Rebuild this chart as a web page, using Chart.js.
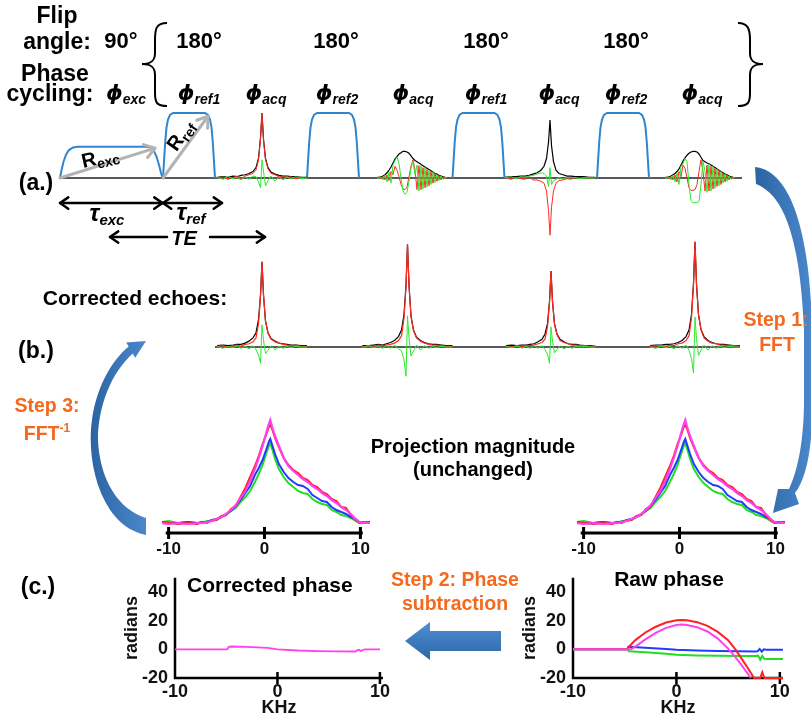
<!DOCTYPE html>
<html>
<head>
<meta charset="utf-8">
<script src="https://cdn.jsdelivr.net/npm/chart.js"></script>
<style>
body { margin: 0; background: #fff; }
#fig { position: relative; width: 811px; height: 721px; overflow: hidden; font-family: 'Liberation Sans', Arial, sans-serif; font-weight: bold; color: #000; }
.box { position: absolute; }
.box canvas { display: block; }
.t { position: absolute; transform: translate(-50%, -50%); line-height: 1; white-space: nowrap; }
.l { position: absolute; transform: translateY(-50%); line-height: 1; white-space: nowrap; }
.o { color: #f5691e; font-size: 19.5px; }
.it { font-style: italic; }
.t sub { position: relative; top: 4px; vertical-align: baseline; line-height: 0; }
.t sup { position: relative; top: -8px; vertical-align: baseline; line-height: 0; font-size: 12px; }
.ph { font-style: italic; font-size: 22px; }
.ph b { font-family: 'DejaVu Sans', sans-serif; font-size: 21px; }
.ph sub { font-size: 14px; }
</style>
</head>
<body>
<div id="fig">
  <div class="box" style="left:0;top:100px"><canvas id="cA" width="811" height="150"></canvas></div>
  <div class="box" style="left:0;top:230px"><canvas id="cB" width="811" height="160"></canvas></div>
  <div class="box" style="left:150px;top:400px"><canvas id="cC1" width="230" height="165"></canvas></div>
  <div class="box" style="left:565px;top:400px"><canvas id="cC2" width="230" height="165"></canvas></div>
  <div class="box" style="left:110px;top:560px"><canvas id="cD1" width="285" height="160"></canvas></div>
  <div class="box" style="left:508px;top:560px"><canvas id="cD2" width="285" height="160"></canvas></div>

  <svg width="811" height="721" style="position:absolute;left:0;top:0;pointer-events:none">
    <defs>
      <linearGradient id="bl" x1="0" y1="0" x2="1" y2="0">
        <stop offset="0" stop-color="#2c64a2"/><stop offset="1" stop-color="#4a88cc"/>
      </linearGradient>
      <linearGradient id="bl2" x1="0" y1="0" x2="0" y2="1">
        <stop offset="0" stop-color="#4f8fd4"/><stop offset="1" stop-color="#2d66a6"/>
      </linearGradient>
    </defs>
    <path d="M167,23 C156,23 155,29 155,40 L155,53 C155,61 151,64 142,64 C151,64 155,67 155,75 L155,93 C155,103 157,106 167,106" fill="none" stroke="#000" stroke-width="2"/>
    <path d="M738,23 C748,23 750,29 750,40 L750,53 C750,61 754,64 763,64 C754,64 750,67 750,75 L750,93 C750,103 748,106 738,106" fill="none" stroke="#000" stroke-width="2"/>
    <path d="M755,167 C790,170 810,230 812,330 L812,420 C811,455 805,480 795,493 L799,504 L773,513 L778,489 L789,489 C798,470 804,440 804,400 L804,330 C800,240 785,195 756,184 Z" fill="url(#bl)"/>
    <path d="M146,518 L146,535 C100,526 86,460 92,420 C96,390 110,362 128.7,346.6 L126.2,342.4 L146,341 L135.2,357.7 L132.7,353.4 C112,372 98,405 98,440 C100,482 120,510 146,518 Z" fill="url(#bl)"/>
    <path d="M405,641 L430,622 L430,631 L501,631 L501,651 L430,651 L430,660 Z" fill="url(#bl2)"/>
  </svg>

  <div class="t" style="left:57px;top:15px;font-size:23px">Flip</div>
  <div class="t" style="left:57px;top:41px;font-size:23px">angle:</div>
  <div class="t" style="left:121px;top:41px;font-size:22px">90°</div>
  <div class="t" style="left:55px;top:73px;font-size:23px">Phase</div>
  <div class="t" style="left:50px;top:93px;font-size:23px">cycling:</div>
  <div class="t" style="left:199px;top:41px;font-size:22px">180°</div>
  <div class="t" style="left:336px;top:41px;font-size:22px">180°</div>
  <div class="t" style="left:486px;top:41px;font-size:22px">180°</div>
  <div class="t" style="left:626px;top:41px;font-size:22px">180°</div>

  <div class="t ph" style="left:126px;top:93px"><b>ϕ</b><sub>exc</sub></div>
  <div class="t ph" style="left:199px;top:93px"><b>ϕ</b><sub>ref1</sub></div>
  <div class="t ph" style="left:266px;top:93px"><b>ϕ</b><sub>acq</sub></div>
  <div class="t ph" style="left:337px;top:93px"><b>ϕ</b><sub>ref2</sub></div>
  <div class="t ph" style="left:413px;top:93px"><b>ϕ</b><sub>acq</sub></div>
  <div class="t ph" style="left:486px;top:93px"><b>ϕ</b><sub>ref1</sub></div>
  <div class="t ph" style="left:559px;top:93px"><b>ϕ</b><sub>acq</sub></div>
  <div class="t ph" style="left:626px;top:93px"><b>ϕ</b><sub>ref2</sub></div>
  <div class="t ph" style="left:702px;top:93px"><b>ϕ</b><sub>acq</sub></div>

  <div class="t" style="left:100px;top:157px;font-size:20px;transform:translate(-50%,-50%) rotate(-13deg)">R<sub style="font-size:14px">exc</sub></div>
  <div class="t" style="left:180px;top:135px;font-size:20px;transform:translate(-50%,-50%) rotate(-55deg)">R<sub style="font-size:14px">ref</sub></div>

  <div class="t" style="left:36px;top:182px;font-size:23px">(a.)</div>
  <div class="t it" style="left:107px;top:213px;font-size:24px">τ<sub style="font-size:15px">exc</sub></div>
  <div class="t it" style="left:191px;top:212px;font-size:24px">τ<sub style="font-size:15px">ref</sub></div>
  <div class="t it" style="left:184px;top:238px;font-size:20px">TE</div>

  <div class="t" style="left:135px;top:297px;font-size:21px">Corrected echoes:</div>
  <div class="t" style="left:36px;top:350px;font-size:23px">(b.)</div>

  <div class="t o" style="left:776px;top:320px">Step 1:</div>
  <div class="t o" style="left:777px;top:345px">FFT</div>
  <div class="t o" style="left:47px;top:406px">Step 3:</div>
  <div class="t o" style="left:47px;top:434px">FFT<sup>-1</sup></div>

  <div class="t" style="left:473px;top:446px;font-size:20px">Projection magnitude</div>
  <div class="t" style="left:473px;top:469px;font-size:20px">(unchanged)</div>

  <div class="t" style="left:38px;top:586px;font-size:23px">(c.)</div>
  <div class="t o" style="left:455px;top:580px">Step 2: Phase</div>
  <div class="t o" style="left:455px;top:604px">subtraction</div>
  <div class="l" style="left:187px;top:584px;font-size:21px">Corrected phase</div>
  <div class="t" style="left:669px;top:578px;font-size:21px">Raw phase</div>
</div>

<script>
'use strict';

// ---- (a.) pulse sequence, time in arbitrary units ----
const excTime = [0, 0.15, 0.35, 0.6, 0.9, 1.3, 1.8, 8.6, 9.0, 9.35, 9.65, 9.9, 10.1, 10.25];
const excAmp = [0, 0.12, 0.25, 0.36, 0.43, 0.47, 0.48, 0.48, 0.47, 0.43, 0.33, 0.2, 0.08, 0];
const refStart = [10.3, 24.7, 39.25, 53.7];
const refShape = [0, 0.1, 0.22, 0.35, 0.5, 0.7, 1.0, 4.2, 4.5, 4.7, 4.85, 4.98, 5.1, 5.2];
const refAmp = [0, 0.25, 0.55, 0.78, 0.9, 0.97, 1.0, 1.0, 0.97, 0.9, 0.78, 0.55, 0.25, 0];
const seqBase = [0, 68.2];
const echoCenterA = [20.2, 34.7, 49.0, 63.5];

// timing arrows
const tauExc = [0, 10.25];
const tauRef = [10.3, 16.2];
const teLeft = [5.0, 10.7];
const teRight = [15.0, 20.5];
const rExc = [0, 0, 9.5, 0.46];
const rRef = [10.3, 0, 14.8, 0.95];

// sharp echo sampling (offset from echo centre)
const sharpOff = [-4.5, -3.9, -3.4, -2.9, -2.5, -2.1, -1.7, -1.3, -0.9, -0.6, -0.35, -0.15, 0, 0.15, 0.35, 0.6, 0.9, 1.3, 1.7, 2.1, 2.5, 2.9, 3.4, 3.9, 4.5];
const echoA1Black = [0.01, 0.02, 0.01, 0.03, 0.02, 0.04, 0.05, 0.07, 0.1, 0.16, 0.3, 0.62, 1.0, 0.6, 0.3, 0.16, 0.09, 0.06, 0.04, 0.03, 0.03, 0.02, 0.02, 0.01, 0.01];
const echoA1Red = [-0.01, 0.02, -0.02, 0.01, 0.03, -0.01, 0.03, 0.05, 0.07, 0.12, 0.28, 0.6, 1.0, 0.58, 0.28, 0.14, 0.07, 0.05, 0.02, 0.03, 0.01, 0.02, -0.01, 0.01, 0];
const echoA1Green = [0.01, -0.02, 0.02, -0.01, 0.01, -0.03, 0.02, -0.02, 0.03, 0.02, -0.06, -0.15, 0.28, 0.1, -0.12, -0.04, 0.03, -0.05, 0.02, -0.03, 0.02, -0.01, 0.02, -0.01, 0];
const echoA3Black = [0.01, 0.02, 0.02, 0.03, 0.03, 0.04, 0.06, 0.08, 0.12, 0.18, 0.3, 0.55, 0.89, 0.5, 0.25, 0.12, 0.07, 0.05, 0.03, 0.03, 0.02, 0.02, 0.02, 0.01, 0.01];
const echoA3Red = [0.01, -0.02, 0.01, -0.01, -0.02, 0.02, -0.03, -0.03, -0.05, -0.08, -0.2, -0.5, -0.88, -0.45, -0.2, -0.08, -0.04, -0.03, -0.01, -0.02, 0.01, -0.01, 0.01, 0, 0];
const echoA3Green = [0, 0.02, -0.01, 0.02, 0.01, 0.03, 0.04, 0.06, 0.08, 0.07, 0.03, -0.13, 0.16, -0.1, -0.04, -0.02, 0.01, -0.02, 0.01, 0, 0.01, -0.01, 0, 0, 0];

// broad echoes (offset from echo centre)
const broadOff = [-3.0, -2.8, -2.6, -2.4, -2.2, -2.0, -1.8, -1.6, -1.4, -1.2, -1.0, -0.8, -0.6, -0.4, -0.2, 0, 0.2, 0.4, 0.6, 0.8, 1.0, 1.2, 1.4, 1.6, 1.8, 2.0, 2.2, 2.4, 2.6, 2.8, 3.0, 3.2, 3.4, 3.6, 3.8, 4.0];
const echoA2Black = [0.01, 0.01, 0.02, 0.03, 0.05, 0.08, 0.12, 0.17, 0.23, 0.29, 0.33, 0.37, 0.39, 0.41, 0.41, 0.40, 0.38, 0.34, 0.3, 0.27, 0.25, 0.23, 0.21, 0.19, 0.17, 0.15, 0.13, 0.11, 0.09, 0.07, 0.06, 0.04, 0.03, 0.02, 0.01, 0];
const echoA2Red = [0, 0.01, -0.01, 0.02, -0.03, 0.05, -0.04, 0.1, 0.05, 0.18, 0.12, 0.02, -0.1, -0.17, -0.18, -0.14, 0.02, 0.18, 0.28, 0.12, -0.18, 0.19, -0.18, 0.16, -0.15, 0.13, -0.12, 0.1, -0.08, 0.07, -0.05, 0.04, -0.03, 0.02, -0.01, 0];
const echoA2Green = [0.01, -0.01, 0.02, -0.03, 0.04, -0.06, 0.09, -0.08, 0.2, 0.27, 0.32, 0.22, 0.0, -0.2, -0.25, -0.22, -0.05, 0.15, 0.26, 0.05, 0.2, -0.2, 0.19, -0.17, 0.16, -0.14, 0.12, -0.1, 0.09, -0.07, 0.05, -0.04, 0.03, -0.02, 0.01, 0];
const echoA4Black = [0.01, 0.01, 0.02, 0.03, 0.05, 0.07, 0.1, 0.14, 0.2, 0.26, 0.31, 0.35, 0.38, 0.4, 0.41, 0.41, 0.4, 0.37, 0.32, 0.27, 0.25, 0.23, 0.22, 0.2, 0.18, 0.16, 0.14, 0.12, 0.1, 0.08, 0.06, 0.05, 0.03, 0.02, 0.01, 0];
const echoA4Red = [0, 0.01, -0.01, 0.02, -0.03, 0.05, -0.06, 0.1, 0.02, 0.2, 0.15, 0.0, -0.15, -0.19, -0.19, -0.18, -0.1, 0.1, 0.28, 0.1, -0.2, 0.2, -0.2, 0.18, -0.17, 0.15, -0.13, 0.12, -0.1, 0.08, -0.06, 0.05, -0.03, 0.02, -0.01, 0];
const echoA4Green = [0.01, -0.01, 0.02, -0.03, 0.04, -0.06, 0.08, -0.1, 0.18, 0.22, 0.3, 0.25, -0.1, -0.35, -0.38, -0.38, -0.38, -0.36, -0.1, 0.26, 0.1, -0.22, 0.22, -0.2, 0.18, -0.16, 0.14, -0.12, 0.1, -0.08, 0.06, -0.05, 0.03, -0.02, 0.01, 0];

// ---- (b.) corrected echoes ----
const corrBase = [15.5, 68.0];
const echoCenterB = [20.2, 34.75, 49.1, 63.5];
const corrBlack1 = [0.02, 0.03, 0.02, 0.03, 0.04, 0.04, 0.06, 0.09, 0.14, 0.22, 0.42, 0.8, 1.31, 0.8, 0.4, 0.22, 0.13, 0.09, 0.06, 0.05, 0.04, 0.03, 0.03, 0.02, 0.02];
const corrRed1 = [0.01, 0.02, 0.0, 0.02, 0.03, 0.01, 0.04, 0.05, 0.08, 0.14, 0.36, 0.78, 1.31, 0.8, 0.4, 0.21, 0.12, 0.08, 0.06, 0.04, 0.03, 0.02, 0.03, 0.01, 0.01];
const corrGreen1 = [0.01, -0.02, 0.01, -0.01, 0.02, -0.02, 0.01, -0.03, 0.02, -0.04, -0.12, -0.25, 0.34, 0.1, -0.1, -0.05, 0.02, -0.04, 0.01, -0.02, 0.01, -0.01, 0.01, 0, 0];
const corrBlack2 = [0.02, 0.02, 0.03, 0.04, 0.03, 0.05, 0.07, 0.1, 0.16, 0.26, 0.5, 0.95, 1.58, 0.95, 0.48, 0.26, 0.15, 0.1, 0.07, 0.05, 0.04, 0.04, 0.03, 0.02, 0.02];
const corrRed2 = [0.0, 0.02, 0.01, 0.03, 0.02, 0.03, 0.04, 0.06, 0.1, 0.17, 0.44, 0.93, 1.58, 0.95, 0.47, 0.25, 0.14, 0.09, 0.06, 0.04, 0.03, 0.03, 0.02, 0.01, 0.01];
const corrGreen2 = [-0.01, 0.02, -0.01, 0.01, -0.02, 0.02, -0.02, 0.03, -0.03, -0.06, -0.2, -0.45, 0.48, 0.14, -0.14, -0.06, 0.03, -0.05, 0.02, -0.02, 0.01, -0.01, 0.01, 0, 0];
const corrBlack3 = [0.02, 0.03, 0.02, 0.03, 0.03, 0.04, 0.05, 0.08, 0.12, 0.2, 0.36, 0.7, 1.17, 0.7, 0.36, 0.2, 0.12, 0.08, 0.05, 0.04, 0.04, 0.03, 0.02, 0.02, 0.01];
const corrRed3 = [0.01, 0.0, 0.02, 0.01, 0.03, 0.02, 0.03, 0.05, 0.07, 0.12, 0.31, 0.68, 1.17, 0.7, 0.35, 0.19, 0.1, 0.07, 0.05, 0.03, 0.03, 0.02, 0.02, 0.01, 0];
const corrGreen3 = [0.01, -0.01, 0.02, -0.02, 0.01, -0.02, 0.02, -0.02, 0.02, -0.04, -0.11, -0.25, 0.31, 0.09, -0.09, -0.04, 0.02, -0.03, 0.01, -0.02, 0.01, 0, 0.01, 0, 0];
const corrBlack4 = [0.02, 0.03, 0.03, 0.04, 0.04, 0.05, 0.07, 0.1, 0.16, 0.26, 0.5, 0.98, 1.62, 0.97, 0.5, 0.27, 0.16, 0.1, 0.07, 0.05, 0.04, 0.04, 0.03, 0.02, 0.02];
const corrRed4 = [0.01, 0.02, 0.02, 0.01, 0.03, 0.02, 0.05, 0.06, 0.1, 0.17, 0.45, 0.96, 1.62, 0.97, 0.49, 0.26, 0.14, 0.09, 0.06, 0.05, 0.03, 0.03, 0.02, 0.02, 0.01];
const corrGreen4 = [0.0, -0.02, 0.02, -0.01, 0.01, -0.03, 0.02, -0.02, 0.03, -0.05, -0.18, -0.4, 0.46, 0.13, -0.13, -0.05, 0.03, -0.05, 0.02, -0.02, 0.01, -0.01, 0.01, 0, 0];

// ---- projection magnitude (kHz) ----
const projKHz = [-10.7, -10, -9, -8, -7, -6.5, -6, -5.5, -5, -4.5, -4, -3.5, -3, -2.5, -2, -1.5, -1, -0.6, -0.2, 0.2, 0.45, 0.6, 0.8, 1.1, 1.5, 2, 2.5, 3, 3.5, 4, 4.5, 5, 5.5, 6, 6.5, 7, 7.5, 8, 8.5, 9, 9.5, 9.9, 10.3, 11];
const projMagenta = [1, 0, 1, 0, 1, 1, 2, 3, 5, 7, 10, 14, 19, 26, 33, 43, 55, 66, 78, 92, 100, 104, 97, 88, 78, 66, 58, 53, 49, 45, 42, 38, 35, 31, 28, 24, 21, 17, 14, 10, 5, 2, 1, 1];
const projRed = [1, 1, 0, 1, 0, 2, 1, 4, 4, 8, 9, 15, 18, 27, 36, 47, 58, 68, 80, 90, 97, 99, 95, 86, 77, 66, 59, 54, 51, 46, 44, 39, 37, 32, 30, 25, 23, 17, 16, 9, 4, 1, 2, 1];
const projBlue = [2, 1, 1, 2, 1, 2, 2, 4, 5, 7, 10, 13, 18, 24, 31, 38, 49, 56, 64, 75, 82, 85, 79, 70, 60, 52, 46, 42, 39, 38, 35, 29, 26, 23, 22, 17, 14, 12, 10, 7, 5, 2, 1, 2];
const projGreen = [2, 3, 1, 2, 1, 1, 3, 3, 4, 7, 9, 13, 16, 22, 27, 33, 42, 50, 59, 71, 78, 81, 75, 65, 55, 47, 41, 37, 33, 31, 30, 25, 22, 20, 19, 14, 12, 9, 8, 6, 3, 1, 1, 2];
const projTicks = [-10, 0, 10];
const projAxis = [-10.3, 10.25];

// ---- phase (radians vs kHz) ----
const phaseTicksX = [-10, 0, 10];
const phaseTicksY = [-20, 0, 20, 40];
const corrPhaseX = [-10, -4.9, -4.75, -4.5, -3, -1, 0, 2, 4, 6, 7.6, 7.8, 8.0, 8.15, 8.35, 8.6, 10];
const corrPhaseY = [0, 0, 1.8, 2, 1.7, 1, 0, -0.8, -1.2, -1.4, -1.5, -0.6, -0.4, -1.3, -0.3, 0, 0];
const rawRedX = [-10, -4.8, -4.5, -4, -3, -2, -1, 0, 0.5, 1, 2, 3, 4, 5, 5.7, 6.3, 6.9, 7.5, 8.1, 8.3, 8.5, 10.3];
const rawRedY = [0, 0, 2.5, 6.3, 11.8, 15.8, 18.8, 20.4, 20.5, 20.3, 19, 16.4, 12.2, 6.4, 0, -6.5, -13, -20, -20, -16, -20, -20];
const rawMagX = [-10, -4.4, -4, -3, -2, -1, 0, 0.5, 1, 2, 3, 4, 5, 5.6, 6.2, 6.7, 7.2];
const rawMagY = [0, 0, 1.8, 7, 11.5, 15, 17, 17.3, 17, 15.5, 12.5, 7.5, 0.5, -4.5, -10, -15, -20];
const rawBlueX = [-10, -4.75, -4.65, -3, -1, 0, 2, 4, 6, 7.6, 7.85, 8.05, 8.25, 8.45, 8.7, 10.3];
const rawBlueY = [0, 0, 1.8, 1.2, 0.3, -0.2, -0.8, -1.1, -1.3, -1.4, -1.3, 0.3, -1.6, 0, -0.2, -0.2];
const rawGreenX = [-10, -4.7, -4.6, -3, -1, 0, 2, 4, 6, 7.6, 7.9, 8.1, 8.3, 8.5, 8.8, 10.3];
const rawGreenY = [0, 0, -1.3, -2, -3.1, -3.7, -4.2, -4.5, -4.6, -4.6, -4.4, -7.3, -4.6, -6.6, -6.7, -6.7];

const RED = '#ff2a1f', GREEN = '#2ee82e', BLACK = '#000', PULSE = '#2f86cf';
const FONT = 'Liberation Sans';
Chart.defaults.font.family = FONT;
Chart.defaults.font.weight = 'bold';
Chart.defaults.color = '#111';

function pts(xs, ys, shift) {
	shift = shift || 0;
	return xs.map((x, i) => ({x: x + shift, y: ys[i]}));
}

function line(data, color, width, order, extra) {
	return Object.assign({
		data: data, borderColor: color, borderWidth: width,
		pointRadius: 0, fill: false, tension: 0, order: order
	}, extra || {});
}

function hiddenScales(xmin, xmax, ymin, ymax) {
	return {
		x: {type: 'linear', display: false, min: xmin, max: xmax},
		y: {type: 'linear', display: false, min: ymin, max: ymax}
	};
}

function baseOptions(scales, pluginOpts) {
	return {
		responsive: false, animation: false, events: [],
		layout: {padding: 0},
		scales: scales,
		plugins: Object.assign({legend: {display: false}, tooltip: {enabled: false}}, pluginOpts || {})
	};
}

// chevron-headed arrows in data coordinates
const arrowPlugin = {
	id: 'arrows',
	afterDatasetsDraw(chart, args, opts) {
		const {ctx, scales: {x, y}} = chart;
		(opts.list || []).forEach(a => {
			let x1 = x.getPixelForValue(a.from[0]), y1 = y.getPixelForValue(a.from[1]);
			let x2 = x.getPixelForValue(a.to[0]), y2 = y.getPixelForValue(a.to[1]);
			ctx.save();
			ctx.strokeStyle = a.color;
			ctx.lineWidth = a.width;
			ctx.lineCap = 'round';
			ctx.lineJoin = 'round';
			ctx.beginPath();
			ctx.moveTo(x1, y1);
			ctx.lineTo(x2, y2);
			ctx.stroke();
			let ang = Math.atan2(y2 - y1, x2 - x1);
			let heads = [];
			if (a.end) heads.push([x2, y2, ang]);
			if (a.start) heads.push([x1, y1, ang + Math.PI]);
			heads.forEach(([hx, hy, h]) => {
				ctx.beginPath();
				ctx.moveTo(hx - a.head * Math.cos(h - 0.6), hy - a.head * Math.sin(h - 0.6));
				ctx.lineTo(hx, hy);
				ctx.lineTo(hx - a.head * Math.cos(h + 0.6), hy - a.head * Math.sin(h + 0.6));
				ctx.stroke();
			});
			ctx.restore();
		});
	}
};

// ---- chart A: pulse sequence ----
const tauLevel = -0.385, teLevel = -0.908;
let setsA = [line(pts(seqBase, [0, 0]), '#222', 1.5, 6)];
setsA.push(line(pts(excTime, excAmp), PULSE, 2, 5));
refStart.forEach(s => setsA.push(line(pts(refShape, refAmp, s), PULSE, 2, 5)));
const echoA = [
	[sharpOff, echoA1Black, echoA1Red, echoA1Green],
	[broadOff, echoA2Black, echoA2Red, echoA2Green],
	[sharpOff, echoA3Black, echoA3Red, echoA3Green],
	[broadOff, echoA4Black, echoA4Red, echoA4Green]
];
echoA.forEach((e, i) => {
	let c = echoCenterA[i];
	setsA.push(line(pts(e[0], e[1], c), BLACK, 1.2, 4));
	setsA.push(line(pts(e[0], e[2], c), RED, 1, 3));
	setsA.push(line(pts(e[0], e[3], c), GREEN, 1, 2));
});
const gray = '#b3b3b3';
new Chart(document.getElementById('cA'), {
	type: 'line',
	data: {datasets: setsA},
	options: baseOptions(hiddenScales(-6, 75.1, -1.1077, 1.2), {
		arrows: {list: [
			{from: [rExc[0], rExc[1]], to: [rExc[2], rExc[3]], end: true, color: gray, width: 3, head: 12},
			{from: [rRef[0], rRef[1]], to: [rRef[2], rRef[3]], end: true, color: gray, width: 3, head: 12},
			{from: [tauExc[0], tauLevel], to: [tauExc[1], tauLevel], start: true, end: true, color: BLACK, width: 2.5, head: 10},
			{from: [tauRef[0], tauLevel], to: [tauRef[1], tauLevel], start: true, end: true, color: BLACK, width: 2.5, head: 10},
			{from: [teLeft[1], teLevel], to: [teLeft[0], teLevel], end: true, color: BLACK, width: 2.5, head: 10},
			{from: [teRight[0], teLevel], to: [teRight[1], teLevel], end: true, color: BLACK, width: 2.5, head: 10}
		]}
	}),
	plugins: [arrowPlugin]
});

// ---- chart B: corrected echoes ----
let setsB = [line(pts(corrBase, [0, 0]), '#222', 1.5, 6)];
const echoB = [
	[corrBlack1, corrRed1, corrGreen1],
	[corrBlack2, corrRed2, corrGreen2],
	[corrBlack3, corrRed3, corrGreen3],
	[corrBlack4, corrRed4, corrGreen4]
];
echoB.forEach((e, i) => {
	let c = echoCenterB[i];
	setsB.push(line(pts(sharpOff, e[0], c), BLACK, 1.2, 4));
	setsB.push(line(pts(sharpOff, e[1], c), RED, 1.2, 3));
	setsB.push(line(pts(sharpOff, e[2], c), GREEN, 1, 2));
});
new Chart(document.getElementById('cB'), {
	type: 'line',
	data: {datasets: setsB},
	options: baseOptions(hiddenScales(-6, 75.1, -0.6615, 1.8))
});

// axis line with crossing ticks for projection plots
const crossAxisPlugin = {
	id: 'crossAxis',
	beforeDatasetsDraw(chart, args, opts) {
		const {ctx, chartArea, scales: {x}} = chart;
		let yb = chartArea.bottom;
		ctx.save();
		ctx.strokeStyle = '#000';
		ctx.lineWidth = 3;
		ctx.beginPath();
		ctx.moveTo(x.getPixelForValue(opts.span[0]), yb);
		ctx.lineTo(x.getPixelForValue(opts.span[1]), yb);
		opts.ticks.forEach(v => {
			let px = x.getPixelForValue(v);
			ctx.moveTo(px, yb - 6);
			ctx.lineTo(px, yb + 6);
		});
		ctx.stroke();
		ctx.restore();
	}
};

function projChart(id) {
	new Chart(document.getElementById(id), {
		type: 'line',
		data: {datasets: [
			line(pts(projKHz, projMagenta), '#ff40ee', 2.2, 1),
			line(pts(projKHz, projRed), '#ff2020', 2, 2),
			line(pts(projKHz, projBlue), '#1f3cff', 2, 3),
			line(pts(projKHz, projGreen), '#22dd22', 2, 4)
		]},
		options: Object.assign(baseOptions({
			x: {
				type: 'linear', min: -10.7, max: 11,
				grid: {display: false, drawTicks: false}, border: {display: false},
				afterBuildTicks: s => { s.ticks = projTicks.map(v => ({value: v})); },
				afterFit: s => { s.height = 32; },
				ticks: {font: {size: 17, weight: 'bold'}, color: '#111', padding: 6, maxRotation: 0, autoSkip: false}
			},
			y: {type: 'linear', display: false, min: -9, max: 114}
		}, {crossAxis: {span: projAxis, ticks: projTicks}}), {layout: {padding: {left: 10, right: 10, top: 10, bottom: 0}}}),
		plugins: [crossAxisPlugin]
	});
}
projChart('cC1');
projChart('cC2');

// L-shaped axes with crossing x ticks for phase plots
const phaseAxisPlugin = {
	id: 'phaseAxis',
	beforeDatasetsDraw(chart, args, opts) {
		const {ctx, chartArea: ca, scales: {x}} = chart;
		ctx.save();
		ctx.strokeStyle = '#000';
		ctx.lineWidth = 2.5;
		ctx.beginPath();
		ctx.moveTo(ca.left, ca.top);
		ctx.lineTo(ca.left, ca.bottom);
		ctx.lineTo(ca.right, ca.bottom);
		opts.ticks.forEach(v => {
			let px = x.getPixelForValue(v);
			ctx.moveTo(px, ca.bottom - 6);
			ctx.lineTo(px, ca.bottom + 6);
		});
		ctx.stroke();
		ctx.restore();
	}
};

function phaseChart(id, sets, padRight) {
	new Chart(document.getElementById(id), {
		type: 'line',
		data: {datasets: sets},
		options: Object.assign(baseOptions({
			x: {
				type: 'linear', min: -10, max: 10.3,
				grid: {display: false, drawTicks: false}, border: {display: false},
				afterBuildTicks: s => { s.ticks = phaseTicksX.map(v => ({value: v})); },
				afterFit: s => { s.height = 42; },
				ticks: {font: {size: 18, weight: 'bold'}, color: '#111', padding: 3, maxRotation: 0, autoSkip: false},
				title: {display: true, text: 'KHz', font: {size: 18, weight: 'bold'}, color: '#111', padding: {top: 0, bottom: 1}}
			},
			y: {
				type: 'linear', min: -20, max: 50,
				grid: {display: false, drawTicks: false}, border: {display: false},
				afterBuildTicks: s => { s.ticks = phaseTicksY.map(v => ({value: v})); },
				afterFit: s => { s.width = 65; },
				ticks: {font: {size: 18, weight: 'bold'}, color: '#111', padding: 7},
				title: {display: true, text: 'radians', font: {size: 18, weight: 'bold'}, color: '#111', padding: {top: 11, bottom: 0}}
			}
		}, {phaseAxis: {ticks: [0, 10]}}), {layout: {padding: {left: 0, right: padRight, top: 13, bottom: 0}}}),
		plugins: [phaseAxisPlugin]
	});
}

phaseChart('cD1', [
	line(pts(corrPhaseX, corrPhaseY), '#ff40ee', 1.8, 1, {clip: 4})
], 12);
phaseChart('cD2', [
	line(pts(rawMagX, rawMagY), '#ff40ee', 2, 1, {clip: 4}),
	line(pts(rawRedX, rawRedY), '#ff2020', 2, 2, {clip: 4}),
	line(pts(rawBlueX, rawBlueY), '#1f3cff', 2, 3, {clip: 4}),
	line(pts(rawGreenX, rawGreenY), '#22dd22', 2, 4, {clip: 4})
], 9);
</script>
</body>
</html>
